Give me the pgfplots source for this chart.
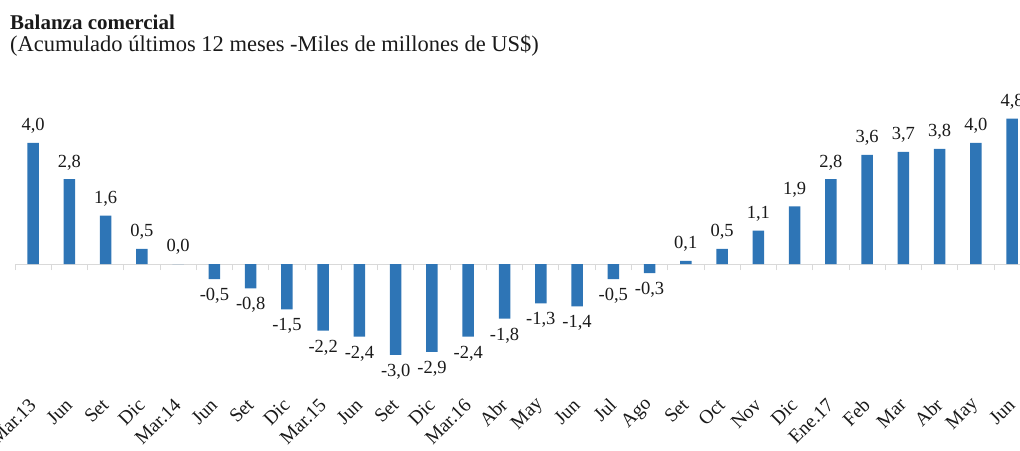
\documentclass[border=0pt]{standalone}
\usepackage{fontspec}
\setmainfont{Liberation Serif}
\usepackage{pgfplots}
\pgfplotsset{compat=1.18}
\definecolor{barblue}{HTML}{2E75B6}
\definecolor{axgray}{HTML}{D9D9D9}
\definecolor{txt}{HTML}{1A1A1A}
\pgfplotstableread{
x y
0 4.0
1 2.8
2 1.6
3 0.5
4 0.0
5 -0.5
6 -0.8
7 -1.5
8 -2.2
9 -2.4
10 -3.0
11 -2.9
12 -2.4
13 -1.8
14 -1.3
15 -1.4
16 -0.5
17 -0.3
18 0.1
19 0.5
20 1.1
21 1.9
22 2.8
23 3.6
24 3.7
25 3.8
26 4.0
27 4.8
}\datatable
\begin{document}
\begin{tikzpicture}
\useasboundingbox (0pt,0pt) rectangle (1020pt,450pt);
\node[anchor=base west, inner sep=0, text=txt, font=\fontsize{21}{25}\selectfont\bfseries] at (10pt,420pt) {Balanza comercial};
\node[anchor=base west, inner sep=0, text=txt, font=\fontsize{22.5}{27}\selectfont] at (10pt,398pt) {(Acumulado últimos 12 meses -Miles de millones de US\$)};
\begin{axis}[
  at={(15pt,55.7pt)}, anchor=south west,
  scale only axis, width=1015.3pt, height=296.94pt,
  xmin=-0.5, xmax=27.5, ymin=-4.3, ymax=5.5,
  axis x line=middle, axis y line=none,
  x axis line style={axgray, line width=0.8pt, -},
  ytick=\empty,
  xtick={0,...,27},
  xticklabels={Mar.13, Jun, Set, Dic, Mar.14, Jun, Set, Dic, Mar.15, Jun, Set, Dic, Mar.16, Abr, May, Jun, Jul, Ago, Set, Oct, Nov, Dic, Ene.17, Feb, Mar, Abr, May, Jun},
  major x tick style={draw=none},
  minor xtick={-0.5,0.5,...,27.5},
  minor tick length=6pt,
  minor x tick style={axgray, line width=0.8pt},
  tick align=outside,
  xticklabel style={yshift=-131pt, xshift=2pt, rotate=45, anchor=east, text=txt, font=\fontsize{19.5}{23}\selectfont},
  ybar, bar width=11.5pt,
  nodes near coords,
  nodes near coords style={text=txt, font=\fontsize{18.5}{22}\selectfont, inner ysep=9pt},
  /pgf/number format/fixed,
  /pgf/number format/fixed zerofill,
  /pgf/number format/precision=1,
  /pgf/number format/use comma,
  /pgf/number format/assume math mode=true,
  clip=false,
]
\addplot[fill=barblue, draw=none] table[x=x, y=y] {\datatable};
\end{axis}
\end{tikzpicture}
\end{document}
